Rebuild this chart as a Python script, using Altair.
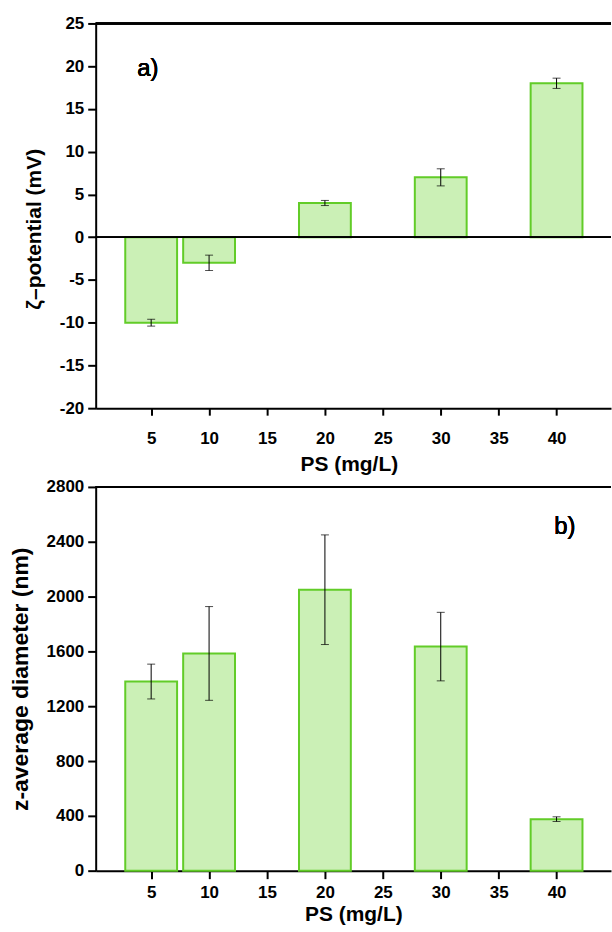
import altair as alt
import pandas as pd

# ---- data ----
ps = [5, 10, 20, 30, 40]
zeta = [-10, -3, 4, 7, 18]
zeta_err = [0.4, 0.9, 0.3, 1.0, 0.6]
zsize = [1380, 1585, 2050, 1635, 376]
zsize_err = [127, 342, 400, 250, 17]

x_ticks = [5, 10, 15, 20, 25, 30, 35, 40]
zeta_ticks = [-20, -17.5, -15, -12.5, -10, -7.5, -5, -2.5, 0, 2.5, 5, 7.5,
              10, 12.5, 15, 17.5, 20, 22.5, 25]
size_ticks = [0, 200, 400, 600, 800, 1000, 1200, 1400, 1600, 1800, 2000,
              2200, 2400, 2600, 2800]

FONT = "Liberation Sans"
W = 517
GREEN = "#62cc28"
FILL = "#cbf0b6"
X_DOMAIN = [0.64, 44.27]


def panel(values, errs, domain, ticks, major, ytitle, h, tag, tag_x, tag_y,
          label_pad, x_title_x, x_title_y, y_title_x, y_title_y, tick_len,
          ytitle_size, xtitle_size):
    df = pd.DataFrame({"ps": ps, "v": values, "e": errs})
    df["lo"] = df["v"] - df["e"]
    df["hi"] = df["v"] + df["e"]
    base = alt.Chart(df)
    xscale = alt.Scale(domain=X_DOMAIN, nice=False, zero=False)
    yscale = alt.Scale(domain=domain, nice=False, zero=False)
    xaxis = alt.Axis(values=x_ticks, title="PS (mg/L)", tickSize=tick_len,
                     labelPadding=label_pad, titleX=x_title_x, titleY=x_title_y,
                     titleBaseline="alphabetic", titleAlign="center",
                     titleAnchor="start", grid=False, titleFontSize=xtitle_size)
    yaxis = alt.Axis(values=ticks, title=ytitle,
                     labelExpr=f"datum.value % {major} == 0 ? toString(datum.value) : ''",
                     tickSize={"condition": {"test": f"datum.value % {major} == 0",
                                             "value": 8}, "value": 4},
                     labelPadding=4, titleX=y_title_x, titleY=y_title_y,
                     titleBaseline="alphabetic", titleAlign="center",
                     titleAnchor="start", titleAngle=270, grid=False,
                     titleFontSize=ytitle_size, titleLimit=400)
    X = alt.X("ps:Q", scale=xscale, axis=xaxis, title="PS (mg/L)")
    bars = base.mark_bar(size=52, fill=FILL, stroke=GREEN, strokeWidth=2).encode(
        x=X, y=alt.Y("v:Q", scale=yscale, axis=yaxis, title=ytitle),
    )
    rule = base.mark_rule(color="black", strokeWidth=1).encode(
        x=X, y=alt.Y("lo:Q", scale=yscale, axis=yaxis, title=ytitle), y2="hi:Q")
    cap_lo = base.mark_tick(color="black", orient="horizontal", size=8,
                            thickness=1).encode(
        x=X, y=alt.Y("lo:Q", scale=yscale, axis=yaxis, title=ytitle))
    cap_hi = base.mark_tick(color="black", orient="horizontal", size=8,
                            thickness=1).encode(
        x=X, y=alt.Y("hi:Q", scale=yscale, axis=yaxis, title=ytitle))
    top_line = alt.Chart(df).mark_rule(color="black", strokeWidth=2).encode(
        y=alt.datum(domain[1]))
    label = alt.Chart(df).mark_text(font=FONT, fontSize=24, fontWeight=400,
                                    align="left", baseline="alphabetic",
                                    color="black").encode(
        x=alt.datum(tag_x), y=alt.datum(tag_y), text=alt.value(tag))
    layers = [bars]
    if domain[0] < 0:
        zero = alt.Chart(df).mark_rule(color="black", strokeWidth=1.5).encode(
            y=alt.datum(0))
        layers.append(zero)
    layers += [rule, cap_lo, cap_hi, top_line, label]
    return alt.layer(*layers).properties(width=W, height=h)


top = panel(zeta, zeta_err, [-20, 25], zeta_ticks, 5, "ζ–potential (mV)", 386,
            "a)", 3.8, 18.8, 15, 254, 63, -55, 206, 7, 21, 21)
bottom = panel(zsize, zsize_err, [0, 2800], size_ticks, 400,
               "z-average diameter (nm)", 385, "b)", 39.8, 2458, 6, 258.5, 50,
               -68, 192.5, 8, 23, 21)

chart = alt.vconcat(top, bottom, spacing=3).properties(
    padding={"left": 10, "top": 13, "right": 0, "bottom": 3},
    background="white",
).configure_view(stroke=None).configure_axis(
    domainColor="black", domainWidth=2, tickColor="black", tickWidth=2,
    labelFont=FONT, labelFontSize=17, labelFontWeight="bold", labelColor="black",
    titleFont=FONT, titleFontSize=21, titleFontWeight="bold", titleColor="black",
    grid=False,
)

chart.save("out.html", embed_options={"renderer": "svg", "actions": False})
